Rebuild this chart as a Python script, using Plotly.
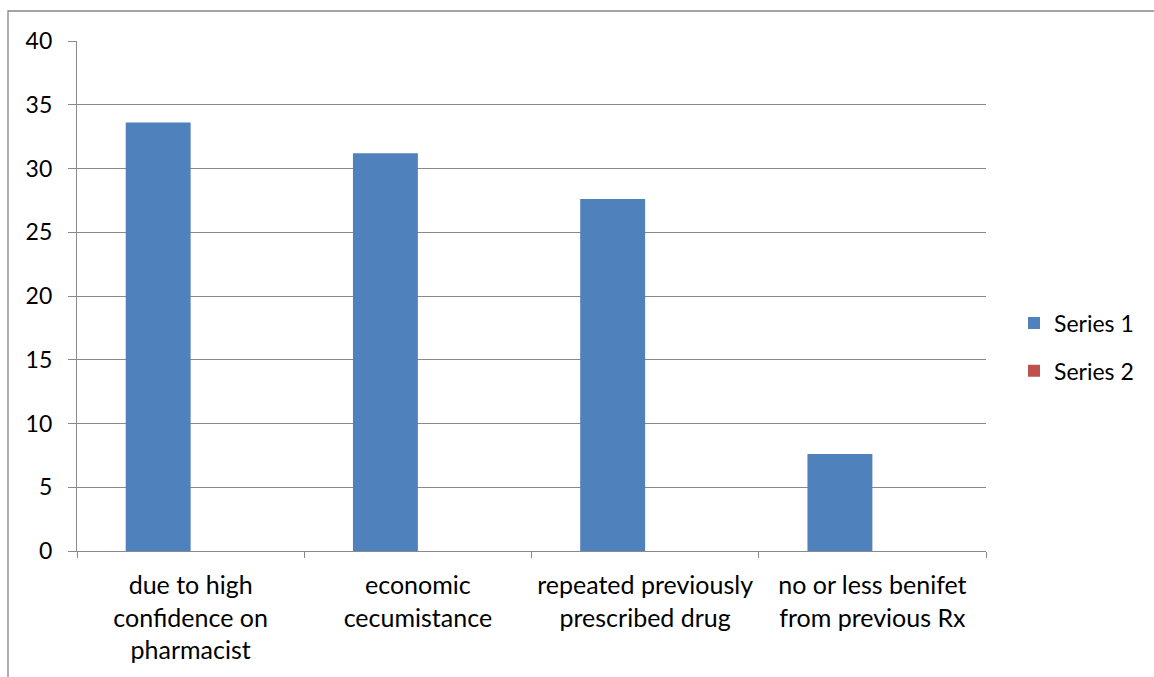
import plotly.graph_objects as go

# Survey reasons and their shares (%)
categories = [
    "due to high<br>confidence on<br>pharmacist",
    "economic<br>cecumistance",
    "repeated previously<br>prescribed drug",
    "no or less benifet<br>from previous Rx",
]
series1 = [33.6, 31.2, 27.6, 7.6]
series2 = [0, 0, 0, 0]
y_ticks = [0, 5, 10, 15, 20, 25, 30, 35, 40]

W, H = 1154, 677
L, R, T, B = 77, 986, 41, 551  # plot area in pixels

FONT = "Lato, Carlito, Calibri, sans-serif"
GRID = "#898989"

fig = go.Figure()
fig.add_trace(go.Bar(x=categories, y=series1, name="Series 1",
                     marker=dict(color="#4F81BD", line=dict(width=0)),
                     legendgroup="s1"))
fig.add_trace(go.Bar(x=categories, y=series2, name="Series 2",
                     marker=dict(color="#C0504D", line=dict(width=0)),
                     legendgroup="s2"))


def px_to_paper(px, py):
    return (px - L) / (R - L), (B - py) / (B - T)


# outer chart-area border
x0, y0 = px_to_paper(8, 11)
x1, y1 = px_to_paper(1200, 720)
fig.add_shape(type="rect", xref="paper", yref="paper",
              x0=x0, x1=x1, y0=y1, y1=y0,
              line=dict(color="#868686", width=1.3), layer="below")

lx, ly = px_to_paper(1014, 347)

fig.update_layout(
    width=W, height=H,
    margin=dict(l=L, r=W - R, t=T, b=H - B, pad=0),
    paper_bgcolor="white", plot_bgcolor="white",
    font=dict(family=FONT, size=23, color="black"),
    barmode="group", bargap=1.5 / 3.5, bargroupgap=0,
    showlegend=True,
    legend=dict(x=lx, y=ly, xanchor="left", yanchor="middle",
                font=dict(size=23), traceorder="grouped",
                tracegroupgap=15, bgcolor="rgba(0,0,0,0)"),
    xaxis=dict(
        type="category", tickson="boundaries", ticks="outside",
        ticklen=6, tickcolor=GRID, tickwidth=1.3,
        showline=True, linecolor=GRID, linewidth=1.3,
        showgrid=False, tickfont=dict(size=25), ticklabelstandoff=12,
    ),
    yaxis=dict(
        range=[0, 40], tickvals=y_ticks, ticks="outside", ticklen=8,
        tickcolor=GRID, tickwidth=1.3,
        showline=True, linecolor=GRID, linewidth=1.3,
        showgrid=True, gridcolor=GRID, gridwidth=1.3,
        zeroline=False, tickfont=dict(size=23), ticklabelstandoff=11,
    ),
)

fig.write_html("out.html")
